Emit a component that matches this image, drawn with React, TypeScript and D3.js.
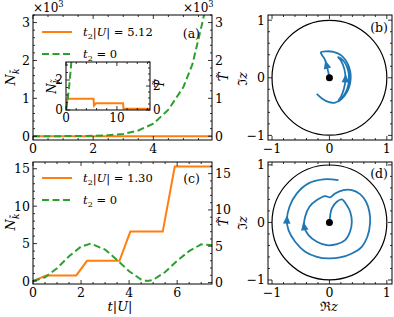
import React, { useEffect, useRef } from 'react';
import * as d3 from 'd3';

const W = 394;
const H = 317;
const FONT = '"DejaVu Serif", serif';
const ORANGE = '#ff7f0e';
const GREEN = '#2ca02c';
const BLUE = '#1f77b4';

// panel (a): N (x10^3) vs t|U|
const aTime = [0, 1, 2, 2.5, 3, 3.5, 4, 4.5, 5, 5.3, 5.6, 5.8];
const aGreen = [0, 0.002, 0.01, 0.025, 0.06, 0.15, 0.33, 0.7, 1.3, 1.9, 2.9, 3.6];
const aOrangeTime = [0, 5.95];
const aOrange = [0, 0];

// inset of (a)
const insTimeOrange = [0, 0.3, 5.4, 5.5, 5.9, 11.2, 11.3, 16.5];
const insOrange = [0, 0.75, 0.75, 0.3, 0.45, 0.45, 0.08, 0.08];
const insTimeGreen = [0, 0.3, 0.6, 0.9, 1.1];
const insGreen = [0, 0.6, 1.5, 2.6, 3.4];

// panel (c)
const cTimeOrange = [0, 0.55, 1.8, 2.25, 3.6, 4.05, 5.4, 5.9, 7.45];
const cOrange = [0, 0.75, 0.75, 2.7, 2.7, 6.6, 6.6, 15.3, 15.3];
const cTimeGreen = [0, 0.5, 1, 1.5, 2, 2.4, 3, 3.5, 4, 4.5, 4.75, 5, 5.5, 6, 6.5, 7, 7.45];
const cGreen = [0, 0.5, 1.7, 3.3, 4.6, 5.0, 4.2, 2.8, 1.3, 0.2, 0, 0.15, 1.2, 2.7, 4.0, 4.9, 4.8];

// panel (b): trajectory in complex plane
const bRe = [0, -0.02, -0.05, -0.08, -0.15, -0.05, 0.07, 0.19, 0.28, 0.34, 0.37, 0.36, 0.31, 0.22, 0.15,
  0.2, 0.25, 0.28, 0.26, 0.2, 0.15, 0.24, 0.31, 0.34, 0.33, 0.28, 0.2, 0.1, -0.02, -0.13, -0.22];
const bIm = [0, 0.1, 0.22, 0.32, 0.44, 0.46, 0.45, 0.4, 0.31, 0.19, 0.05, -0.1, -0.24, -0.36, -0.41,
  -0.33, -0.2, -0.02, 0.15, 0.3, 0.36, 0.3, 0.18, 0.03, -0.12, -0.26, -0.37, -0.43, -0.42, -0.36, -0.28];
const bArrows = [2, 17];

// panel (d)
const dRe = [0, 0.042, 0.129, 0.216, 0.303, 0.36, 0.39, 0.36, 0.273, 0.129, -0.045, -0.219, -0.365, -0.44,
  -0.423, -0.348, -0.219, -0.075, 0.012, 0.099, 0.243, 0.39, 0.534, 0.638, 0.696, 0.708, 0.661, 0.563,
  0.39, 0.186, -0.017, -0.219, -0.423, -0.597, -0.713, -0.741, -0.696, -0.567, -0.365, -0.104, 0.157];
const dIm = [0, 0.243, 0.36, 0.4, 0.3, 0.19, 0.012, -0.157, -0.308, -0.377, -0.395, -0.336, -0.221, -0.075,
  0.099, 0.273, 0.388, 0.457, 0.435, 0.504, 0.562, 0.562, 0.492, 0.36, 0.186, -0.017, -0.249, -0.423,
  -0.539, -0.609, -0.626, -0.597, -0.51, -0.336, -0.134, 0.04, 0.273, 0.504, 0.678, 0.748, 0.736];
const dArrows = [13, 35];

type Sel = d3.Selection<SVGGElement, unknown, null, undefined>;
type Part = { t: string; it?: boolean; sub?: boolean; sup?: boolean };

const fmt = (v: number) => (v < 0 ? '\u2212' + Math.abs(v) : String(v));

function mathText(g: Sel, x: number, y: number, parts: Part[], fs: number, anchor = 'start', rot = 0) {
  const t = g.append('text')
    .attr('x', x).attr('y', y)
    .attr('font-family', FONT).attr('font-size', fs)
    .attr('text-anchor', anchor)
    .attr('fill', '#000');
  if (rot) t.attr('transform', `rotate(${rot},${x},${y})`);
  let shift = 0;
  parts.forEach((p) => {
    const target = p.sub ? fs * 0.3 : p.sup ? -fs * 0.4 : 0;
    t.append('tspan')
      .attr('dy', target - shift)
      .attr('font-style', p.it ? 'italic' : 'normal')
      .attr('font-size', p.sub || p.sup ? fs * 0.7 : fs)
      .text(p.t);
    shift = target;
  });
}

function minors(dom: number[], step: number, majors: number[]) {
  const lo = Math.min(dom[0], dom[1]);
  const hi = Math.max(dom[0], dom[1]);
  return d3.range(Math.ceil(lo / step) * step, hi + 1e-9, step)
    .filter((v) => !majors.some((m) => Math.abs(m - v) < 1e-6));
}

function axes(g: Sel, x: d3.ScaleLinear<number, number>, y: d3.ScaleLinear<number, number>, o: any) {
  const [l, r] = x.range();
  const [b, t] = y.range();
  const ML = 4, ml = 2;
  const tk = g.append('g').attr('stroke', '#000').attr('stroke-width', 0.8);
  const xs = [...o.xMajor.map((v: number) => [v, ML]), ...minors(x.domain(), o.xMinor, o.xMajor).map((v) => [v, ml])];
  xs.forEach(([v, len]: number[]) => {
    tk.append('line').attr('x1', x(v)).attr('x2', x(v)).attr('y1', b).attr('y2', b - len);
    tk.append('line').attr('x1', x(v)).attr('x2', x(v)).attr('y1', t).attr('y2', t + len);
  });
  const ys = [...o.yMajor.map((v: number) => [v, ML]), ...minors(y.domain(), o.yMinor, o.yMajor).map((v) => [v, ml])];
  ys.forEach(([v, len]: number[]) => {
    tk.append('line').attr('y1', y(v)).attr('y2', y(v)).attr('x1', l).attr('x2', l + len);
    if (!o.yR) tk.append('line').attr('y1', y(v)).attr('y2', y(v)).attr('x1', r).attr('x2', r - len);
  });
  if (o.yR) {
    const yR = o.yR;
    const rs = [...o.yRMajor.map((v: number) => [v, ML]), ...minors(yR.domain(), o.yRMinor, o.yRMajor).map((v) => [v, ml])];
    rs.forEach(([v, len]: number[]) => {
      tk.append('line').attr('y1', yR(v)).attr('y2', yR(v)).attr('x1', r).attr('x2', r - len);
    });
    o.yRMajor.forEach((v: number) => {
      g.append('text').attr('x', r + 3).attr('y', yR(v) + o.fs * 0.36)
        .attr('font-family', FONT).attr('font-size', o.fs).text(fmt(v));
    });
  }
  g.append('rect').attr('x', l).attr('y', t).attr('width', r - l).attr('height', b - t)
    .attr('fill', 'none').attr('stroke', '#000').attr('stroke-width', 1);
  o.xMajor.forEach((v: number) => {
    g.append('text').attr('x', x(v)).attr('y', b + o.fs).attr('text-anchor', 'middle')
      .attr('font-family', FONT).attr('font-size', o.fs).text(fmt(v));
  });
  o.yMajor.forEach((v: number) => {
    g.append('text').attr('x', l - 3).attr('y', y(v) + o.fs * 0.36).attr('text-anchor', 'end')
      .attr('font-family', FONT).attr('font-size', o.fs).text(fmt(v));
  });
}

function clip(svg: any, id: string, x: any, y: any) {
  const [l, r] = x.range();
  const [b, t] = y.range();
  svg.append('clipPath').attr('id', id).append('rect')
    .attr('x', l).attr('y', t).attr('width', r - l).attr('height', b - t);
}

function drawLine(g: Sel, xs: number[], ys: number[], x: any, y: any, color: string, dash: string | null, cid: string, w = 2) {
  const pts = xs.map((v, i) => [v, ys[i]] as [number, number]);
  const line = d3.line<[number, number]>().x((d) => x(d[0])).y((d) => y(d[1]));
  g.append('path').attr('d', line(pts)).attr('fill', 'none').attr('stroke', color)
    .attr('stroke-width', w).attr('stroke-dasharray', dash).attr('clip-path', `url(#${cid})`);
}

function phase(g: Sel, re: number[], im: number[], arrows: number[], x: any, y: any) {
  g.append('circle').attr('cx', x(0)).attr('cy', y(0)).attr('r', x(1) - x(0))
    .attr('fill', 'none').attr('stroke', '#000').attr('stroke-width', 1.2);
  const pts = re.map((v, i) => [v, im[i]] as [number, number]);
  const line = d3.line<[number, number]>().x((d) => x(d[0])).y((d) => y(d[1])).curve(d3.curveCatmullRom.alpha(0.5));
  g.append('path').attr('d', line(pts)).attr('fill', 'none').attr('stroke', BLUE).attr('stroke-width', 1.8);
  arrows.forEach((i) => {
    const px = x(re[i]), py = y(im[i]);
    const ang = Math.atan2(y(im[i + 1]) - y(im[i - 1]), x(re[i + 1]) - x(re[i - 1])) * 180 / Math.PI;
    g.append('path').attr('d', 'M5,0 L-3.5,-3.8 L-3.5,3.8 Z').attr('fill', BLUE)
      .attr('transform', `translate(${px},${py}) rotate(${ang})`);
  });
  g.append('circle').attr('cx', x(0)).attr('cy', y(0)).attr('r', 3.5).attr('fill', '#000');
}

export default function App() {
  const ref = useRef<SVGSVGElement>(null);

  useEffect(() => {
    const svg = d3.select(ref.current);
    svg.selectAll('*').remove();
    const root = svg.append('g') as unknown as Sel;
    const fs = 12.5;
    const lf = 11.5;
    const it = (t: string) => ({ t, it: true });
    const rm = (t: string) => ({ t });

    // ---------- panel (a)
    const xa = d3.scaleLinear().domain([0, 5.95]).range([33, 212]);
    const ya = d3.scaleLinear().domain([-0.1, 3.2]).range([140, 15]);
    clip(svg, 'ca', xa, ya);
    drawLine(root, aOrangeTime, aOrange, xa, ya, ORANGE, null, 'ca');
    drawLine(root, aTime, aGreen, xa, ya, GREEN, '7,3.5', 'ca');
    axes(root, xa, ya, {
      xMajor: [0, 2, 4], xMinor: 0.5, yMajor: [0, 1, 2, 3], yMinor: 0.2,
      yR: ya, yRMajor: [0, 1, 2, 3], yRMinor: 0.2, fs,
    });
    mathText(root, 33, 12, [rm('\u00d710'), { t: '3', sup: true }], 12);
    mathText(root, 183, 12, [rm('\u00d710'), { t: '3', sup: true }], 12);
    mathText(root, 15, 77, [it('N'), { t: 'k\u0303', it: true, sub: true }], 13, 'middle', -90);
    mathText(root, 228, 77, [it('T\u0303')], 13, 'middle', -90);
    root.append('line').attr('x1', 42).attr('x2', 72).attr('y1', 32).attr('y2', 32).attr('stroke', ORANGE).attr('stroke-width', 2);
    root.append('line').attr('x1', 42).attr('x2', 72).attr('y1', 54).attr('y2', 54).attr('stroke', GREEN).attr('stroke-width', 2).attr('stroke-dasharray', '7,3.5');
    mathText(root, 83, 36, [it('t'), { t: '2', sub: true }, rm('|'), it('U'), rm('| = 5.12')], lf);
    mathText(root, 83, 58, [it('t'), { t: '2', sub: true }, rm(' = 0')], lf);
    mathText(root, 200, 38, [rm('(a)')], 12.5, 'end');

    // inset
    const xi = d3.scaleLinear().domain([0, 16.5]).range([66, 150]);
    const yi = d3.scaleLinear().domain([0, 3.2]).range([110, 62]);
    const yiR = d3.scaleLinear().domain([0, 4]).range([110, 62]);
    root.append('rect').attr('x', 66).attr('y', 62).attr('width', 84).attr('height', 48).attr('fill', '#fff');
    clip(svg, 'ci', xi, yi);
    drawLine(root, insTimeOrange, insOrange, xi, yi, ORANGE, null, 'ci');
    drawLine(root, insTimeGreen, insGreen, xi, yi, GREEN, '7,3.5', 'ci');
    axes(root, xi, yi, {
      xMajor: [0, 10], xMinor: 2, yMajor: [0, 2], yMinor: 0.5,
      yR: yiR, yRMajor: [0, 2], yRMinor: 0.5, fs: 12,
    });
    mathText(root, 56, 86, [it('N'), { t: 'k\u0303', it: true, sub: true }], 12, 'middle', -90);
    mathText(root, 164, 84, [it('T\u0303')], 12, 'middle', -90);

    // ---------- panel (b)
    const xb = d3.scaleLinear().domain([-1.07, 1.09]).range([268, 392]);
    const yb = d3.scaleLinear().domain([-1.08, 1.09]).range([140, 15]);
    axes(root, xb, yb, { xMajor: [-1, 0, 1], xMinor: 0.2, yMajor: [-1, 0, 1], yMinor: 0.2, fs });
    phase(root, bRe, bIm, bArrows, xb, yb);
    mathText(root, 247, 79, [rm('\u2111'), it('z')], 13, 'middle', -90);
    mathText(root, 388, 32, [rm('(b)')], 12.5, 'end');

    // ---------- panel (c)
    const xc = d3.scaleLinear().domain([0, 7.45]).range([33, 212]);
    const yc = d3.scaleLinear().domain([-0.4, 15.9]).range([284, 162]);
    const ycR = d3.scaleLinear().domain([-0.2, 16.6]).range([284, 162]);
    clip(svg, 'cc', xc, yc);
    drawLine(root, cTimeOrange, cOrange, xc, yc, ORANGE, null, 'cc');
    drawLine(root, cTimeGreen, cGreen, xc, yc, GREEN, '7,3.5', 'cc');
    axes(root, xc, yc, {
      xMajor: [0, 2, 4, 6], xMinor: 0.5, yMajor: [0, 5, 10, 15], yMinor: 1,
      yR: ycR, yRMajor: [0, 5, 10, 15], yRMinor: 1, fs,
    });
    mathText(root, 15, 222, [it('N'), { t: 'k\u0303', it: true, sub: true }], 13, 'middle', -90);
    mathText(root, 228, 222, [it('T\u0303')], 13, 'middle', -90);
    mathText(root, 120, 311, [it('t'), rm('|'), it('U'), rm('|')], 13, 'middle');
    root.append('line').attr('x1', 42).attr('x2', 72).attr('y1', 178).attr('y2', 178).attr('stroke', ORANGE).attr('stroke-width', 2);
    root.append('line').attr('x1', 42).attr('x2', 72).attr('y1', 200).attr('y2', 200).attr('stroke', GREEN).attr('stroke-width', 2).attr('stroke-dasharray', '7,3.5');
    mathText(root, 83, 182, [it('t'), { t: '2', sub: true }, rm('|'), it('U'), rm('| = 1.30')], lf);
    mathText(root, 83, 204, [it('t'), { t: '2', sub: true }, rm(' = 0')], lf);
    mathText(root, 200, 183, [rm('(c)')], 12.5, 'end');

    // ---------- panel (d)
    const xd = d3.scaleLinear().domain([-1.07, 1.09]).range([268, 392]);
    const yd = d3.scaleLinear().domain([-1.07, 1.05]).range([284, 162]);
    axes(root, xd, yd, { xMajor: [-1, 0, 1], xMinor: 0.2, yMajor: [-1, 0, 1], yMinor: 0.2, fs });
    phase(root, dRe, dIm, dArrows, xd, yd);
    mathText(root, 247, 223, [rm('\u2111'), it('z')], 13, 'middle', -90);
    mathText(root, 329, 311, [rm('\u211c'), it('z')], 13, 'middle');
    mathText(root, 388, 178, [rm('(d)')], 12.5, 'end');
  }, []);

  return (
    <svg ref={ref} width={W} height={H} style={{ position: 'fixed', left: 0, top: 0, background: '#fff' }} />
  );
}
